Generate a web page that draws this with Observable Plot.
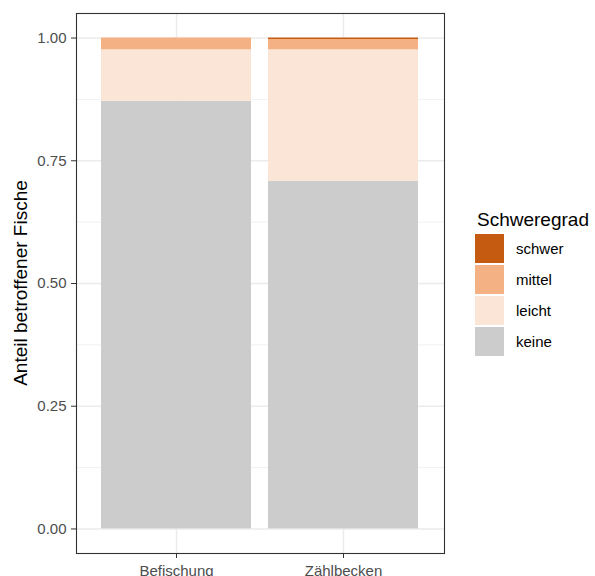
<!DOCTYPE html>
<html>
<head>
<meta charset="utf-8">
<script src="https://cdn.jsdelivr.net/npm/d3@7"></script>
<script src="https://cdn.jsdelivr.net/npm/@observablehq/plot@0.6"></script>
<style>
  html, body { margin: 0; padding: 0; background: white; }
  #wrap { position: relative; width: 595px; height: 576px; overflow: hidden; font-family: "Liberation Sans", Arial, sans-serif; }
  #ylab { position: absolute; left: 21px; top: 283px; transform: translate(-50%, -50%) rotate(-90deg); font-size: 19px; color: #000; white-space: nowrap; }
  #legend { position: absolute; left: 475px; top: 206px; }
  #legend .title { font-size: 19px; color: #000; height: 27px; line-height: 27px; margin-left: 2px; white-space: nowrap; }
  #legend .row { display: flex; align-items: center; height: 31px; }
  #legend .key { width: 29px; height: 29px; margin-right: 12px; }
  #legend .lab { font-size: 15px; color: #000; }
</style>
</head>
<body>
<div id="wrap">
  <div id="chart"></div>
  <div id="ylab">Anteil betroffener Fische</div>
  <div id="legend"></div>
</div>
<script>
const groups = ["Befischung", "Zählbecken"];
const levels = ["keine", "leicht", "mittel", "schwer"];
const befischung = [0.871, 0.105, 0.024, 0.000];
const zaehlbecken = [0.708, 0.268, 0.021, 0.003];
const colors = ["#CCCCCC", "#FBE5D6", "#F4B183", "#C55A11"];
const yTicks = [0, 0.25, 0.5, 0.75, 1];
const yMinor = [0.125, 0.375, 0.625, 0.875];
const legendTitle = "Schweregrad";

const series = [befischung, zaehlbecken];
const data = [];
levels.forEach((lv, j) => {
  groups.forEach((g, i) => {
    data.push({group: g, level: lv, value: series[i][j]});
  });
});

const chart = Plot.plot({
  width: 595,
  height: 576,
  marginLeft: 76,
  marginRight: 151,
  marginTop: 13,
  marginBottom: 23,
  style: {fontFamily: "'Liberation Sans', Arial, sans-serif", background: "white"},
  x: {domain: groups, paddingInner: 0.1, paddingOuter: 0.15, axis: null},
  y: {domain: [-0.05, 1.05], axis: null},
  color: {domain: levels, range: colors},
  marks: [
    Plot.gridY(yMinor, {stroke: "#EBEBEB", strokeOpacity: 1, strokeWidth: 0.7}),
    Plot.gridY(yTicks, {stroke: "#EBEBEB", strokeOpacity: 1, strokeWidth: 1.4}),
    Plot.gridX(groups, {stroke: "#EBEBEB", strokeOpacity: 1, strokeWidth: 1.4}),
    Plot.barY(data, {x: "group", y: "value", fill: "level", order: levels}),
    Plot.frame({stroke: "#333333", strokeWidth: 1.1}),
    Plot.axisY(yTicks, {tickFormat: d3.format(".2f"), tickSize: 5, tickPadding: 5, fontSize: 15, fill: "#4D4D4D", stroke: "#333333", label: null}),
    Plot.axisX(groups, {tickSize: 5, tickPadding: 7, fontSize: 15, fill: "#4D4D4D", stroke: "#333333", label: null})
  ]
});
document.getElementById("chart").appendChild(chart);

const legend = document.getElementById("legend");
const t = document.createElement("div");
t.className = "title";
t.textContent = legendTitle;
legend.appendChild(t);
for (let j = levels.length - 1; j >= 0; j--) {
  const row = document.createElement("div");
  row.className = "row";
  const k = document.createElement("div");
  k.className = "key";
  k.style.background = colors[j];
  const l = document.createElement("div");
  l.className = "lab";
  l.textContent = levels[j];
  row.appendChild(k);
  row.appendChild(l);
  legend.appendChild(row);
}
</script>
</body>
</html>
